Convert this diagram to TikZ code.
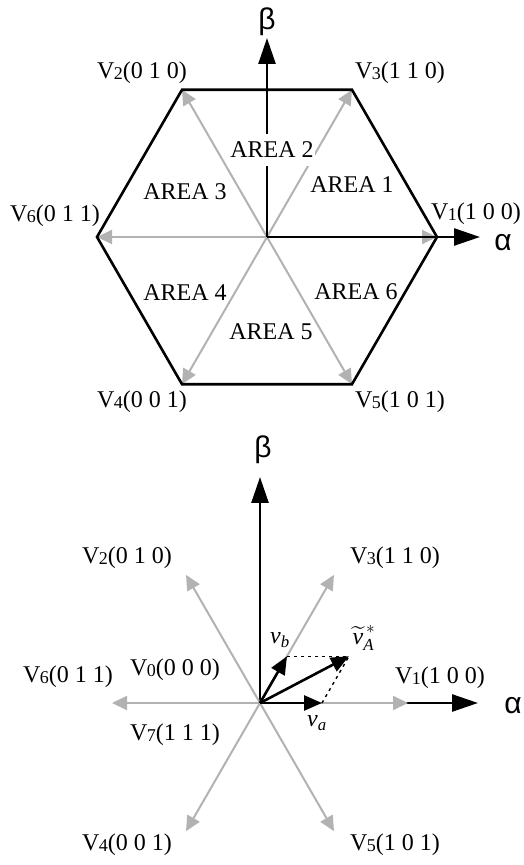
\documentclass[tikz,border=0pt]{standalone}
\usepackage{amsmath}
\usepackage{fontspec}
\setmainfont{Liberation Serif}
\newfontfamily\greekfont{Liberation Sans}
\usetikzlibrary{arrows.meta,calc}
\newcommand{\vlab}[2]{V\kern-0.03em\raisebox{-0.08ex}{\fontsize{18}{18}\selectfont #1}(#2)}

\begin{document}
\begin{tikzpicture}[x=1pt, y=1pt,
  font=\fontsize{24}{28}\selectfont,
  lab/.style={inner sep=0pt},
  axlab/.style={inner sep=0pt, font=\greekfont\fontsize{30}{34}\selectfont},
  hexline/.style={line width=2.6pt},
  ray/.style={draw=black!30, line width=2pt, -{Triangle[length=15pt,width=14pt]}},
  axis/.style={line width=2.6pt, -{Triangle[length=26pt,width=17pt]}},
  vec/.style={line width=2.6pt, -{Triangle[length=18pt,width=15pt]}},
  aux/.style={line width=1.4pt, dash pattern=on 3pt off 4pt}
]
\useasboundingbox (0,0) rectangle (523,865);
% upper diagram: six sectors
\coordinate (o1) at (267,628);
\foreach \i/\a in {1/0,3/60,2/120,6/180,4/240,5/300}
  \coordinate (h\i) at ($(o1)+(\a:170)$);
\foreach \i in {1,...,6} \draw[ray] (o1) -- (h\i);
\draw[hexline] (h1) -- (h3) -- (h2) -- (h6) -- (h4) -- (h5) -- cycle;
\coordinate (atip1) at (480,628);
\coordinate (btip1) at (267,827);
\draw[axis] (o1) -- (atip1);
\draw[axis] (o1) -- (btip1);
\node[axlab] (beta1) at (267,843) {β};
\node[axlab] (alpha1) at (503,622) {α};
\node[lab] (v2a) at (142,792) {\vlab{2}{0 1 0}};
\node[lab] (v3a) at (400,792) {\vlab{3}{1 1 0}};
\node[lab] (v6a) at (55,649) {\vlab{6}{0 1 1}};
\node[lab] (v1a) at (476,651) {\vlab{1}{1 0 0}};
\node[lab] (v4a) at (142,463) {\vlab{4}{0 0 1}};
\node[lab] (v5a) at (400,463) {\vlab{5}{1 0 1}};
\node[fill=white, inner xsep=1pt, inner ysep=8pt] (ar2) at (272,715) {AREA 2};
\node[lab] (ar1) at (352,680) {AREA 1};
\node[lab] (ar3) at (185,673) {AREA 3};
\node[lab] (ar4) at (185,572) {AREA 4};
\node[lab] (ar5) at (271,533) {AREA 5};
\node[lab] (ar6) at (356,573) {AREA 6};

% lower diagram: reference vector
\coordinate (o2) at (260,162);
\foreach \i/\a in {1/0,3/60,2/120,6/180,4/240,5/300}
  \coordinate (s\i) at ($(o2)+(\a:148)$);
\coordinate (atip2) at (478,162);
\coordinate (btip2) at (260,388);
\draw[axis] (o2) -- (atip2);
\draw[axis] (o2) -- (btip2);
\foreach \i in {1,...,6} \draw[ray] (o2) -- (s\i);
\coordinate (va) at ($(o2)+(62,0)$);
\coordinate (vb) at ($(o2)+(60:54)$);
\coordinate (vref) at ($(va)+(vb)-(o2)$);
\draw[aux] (vb) -- (vref);
\draw[aux] (va) -- (vref);
\draw[vec] (o2) -- (va);
\draw[vec] (o2) -- (vb);
\draw[vec] (o2) -- (vref);
\node[axlab] (beta2) at (263,415) {β};
\node[axlab] (alpha2) at (513,159) {α};
\node[lab] (v2b) at (127,307) {\vlab{2}{0 1 0}};
\node[lab] (v3b) at (395,307) {\vlab{3}{1 1 0}};
\node[lab] (v6b) at (68,188) {\vlab{6}{0 1 1}};
\node[lab] (v0b) at (175,195) {\vlab{0}{0 0 0}};
\node[lab] (v1b) at (440,187) {\vlab{1}{1 0 0}};
\node[lab] (v7b) at (175,130) {\vlab{7}{1 1 1}};
\node[lab] (v4b) at (127,20) {\vlab{4}{0 0 1}};
\node[lab] (v5b) at (395,20) {\vlab{5}{1 0 1}};
\node[lab] (valab) at (317,142) {\textit{v}\textsubscript{\textit{a}}};
\node[lab] (vblab) at (280,225) {\textit{v}\textsubscript{\textit{b}}};
\node[lab] (vreflab) at (364,227) {$\widetilde{\textit{v}}^{\,*}_{\textit{A}}$};
\end{tikzpicture}
\end{document}
